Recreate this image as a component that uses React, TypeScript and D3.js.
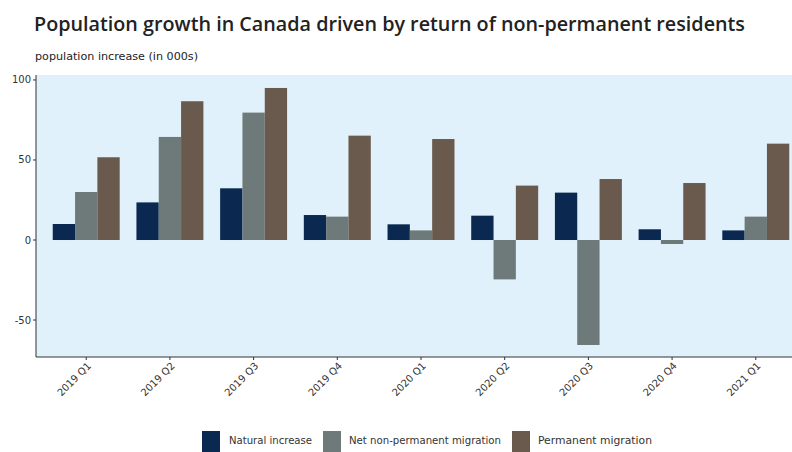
import React from "react";
import * as d3 from "d3";

const quarters = ["2019 Q1", "2019 Q2", "2019 Q3", "2019 Q4", "2020 Q1", "2020 Q2", "2020 Q3", "2020 Q4", "2021 Q1"];
const seriesNames = ["Natural increase", "Net non-permanent migration", "Permanent migration"];
const naturalIncrease = [10, 23.5, 32.3, 15.6, 9.8, 15.2, 29.6, 6.7, 6];
const netNonPermanent = [30, 64.4, 79.6, 14.6, 6, -24.6, -65.6, -2.5, 14.6];
const permanentMigration = [51.7, 86.7, 95, 65.2, 63.1, 34, 38.1, 35.6, 60.2];
const yTicks = [-50, 0, 50, 100];
const colors = ["#0b2850", "#6e7a79", "#6a5a4d"];

const title = "Population growth in Canada driven by return of non-permanent residents";
const subtitle = "population increase (in 000s)";

export default function App() {
  const W = 792, H = 452;
  const left = 36, right = 806, top = 75, bottom = 357;
  const font = "'DejaVu Sans', Verdana, sans-serif";

  const x = d3.scaleBand<string>().domain(quarters).range([left, right]).paddingInner(0.2).paddingOuter(0.2);
  const xs = d3.scaleBand<string>().domain(seriesNames).range([0, x.bandwidth()]);
  const y = d3.scaleLinear().domain([-73.1, 103.1]).range([bottom, top]);
  const series = [naturalIncrease, netNonPermanent, permanentMigration];

  const legendItems = [
    { name: seriesNames[0], kx: 202, tx: 229, tw: 83 },
    { name: seriesNames[1], kx: 323, tx: 349, tw: 152 },
    { name: seriesNames[2], kx: 512, tx: 538, tw: 114 },
  ];

  return (
    <svg width={W} height={H} style={{ position: "absolute", left: 0, top: 0, background: "#fff" }}>
      <text x={34} y={31} fontFamily="'Open Sans', 'DejaVu Sans', sans-serif" fontSize={20} fontWeight={600} fill="#222" textLength={711} lengthAdjust="spacingAndGlyphs">{title}</text>
      <text x={35} y={60} fontFamily={font} fontSize={11} fill="#222" textLength={163} lengthAdjust="spacingAndGlyphs">{subtitle}</text>
      <rect x={left} y={top} width={W - left} height={bottom - top} fill="#e0f1fb" />
      {series.map((vals, si) =>
        quarters.map((q, i) => {
          const v = vals[i];
          const y0 = y(0), y1 = y(v);
          return (
            <rect key={si + "-" + i} x={(x(q) as number) + (xs(seriesNames[si]) as number)} y={Math.min(y0, y1)}
              width={xs.bandwidth()} height={Math.abs(y1 - y0)} fill={colors[si]} />
          );
        })
      )}
      <line x1={left} x2={left} y1={top} y2={bottom} stroke="#333" strokeWidth={1} />
      <line x1={left} x2={W} y1={bottom} y2={bottom} stroke="#333" strokeWidth={1} />
      {yTicks.map((t) => (
        <g key={t}>
          <line x1={left - 3} x2={left} y1={y(t)} y2={y(t)} stroke="#333" />
          <text x={left - 5} y={y(t)} dy="0.35em" textAnchor="end" fontFamily={font} fontSize={10} fill="#333">{t}</text>
        </g>
      ))}
      {quarters.map((q) => {
        const cx = (x(q) as number) + x.bandwidth() / 2;
        return (
          <g key={q}>
            <line x1={cx} x2={cx} y1={bottom} y2={bottom + 3} stroke="#333" />
            <text transform={`translate(${cx + 3},${bottom + 7}) rotate(-45)`} textAnchor="end" dy="0.35em"
              fontFamily={font} fontSize={10} fill="#333">{q}</text>
          </g>
        );
      })}
      {legendItems.map((it, i) => (
        <g key={it.name}>
          <rect x={it.kx} y={431} width={18} height={21} fill={colors[i]} />
          <text x={it.tx} y={444} fontFamily={font} fontSize={10} fill="#333" textLength={it.tw} lengthAdjust="spacingAndGlyphs">{it.name}</text>
        </g>
      ))}
    </svg>
  );
}
